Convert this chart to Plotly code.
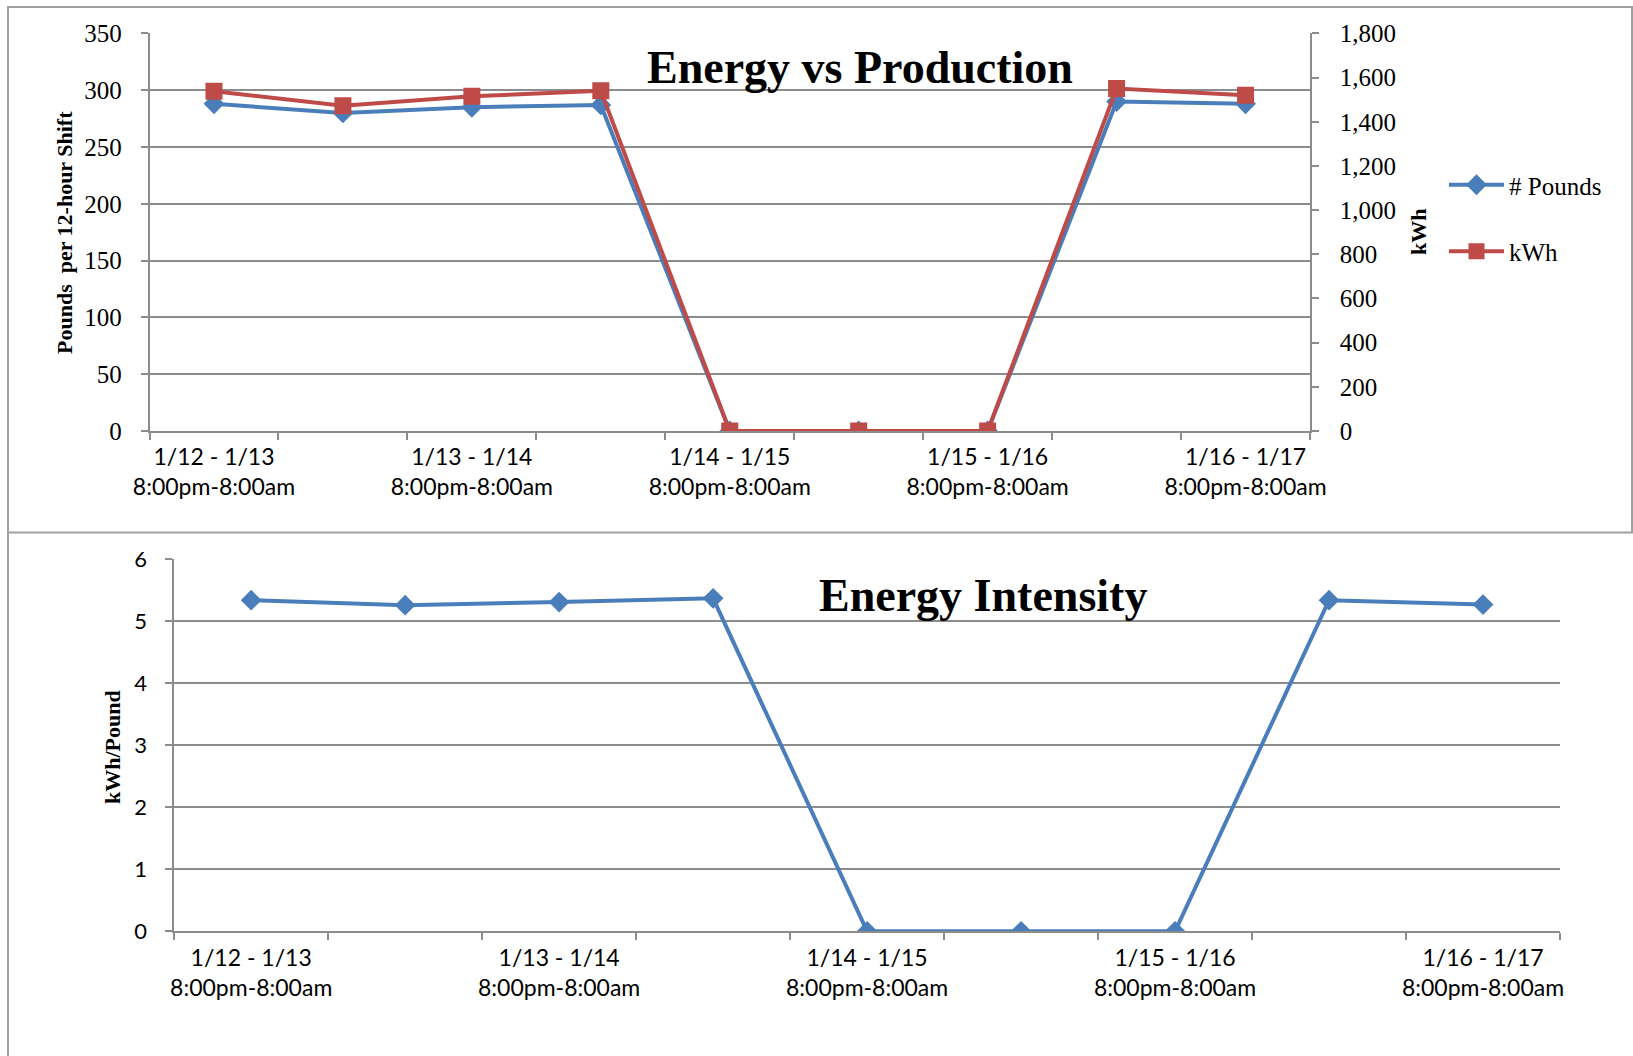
import plotly.graph_objects as go

# Night shifts, 12-hour intervals (9 shifts); only every other shift is labelled on the axis
shift_index = [1, 2, 3, 4, 5, 6, 7, 8, 9]
label_positions = [1, 3, 5, 7, 9]
shift_labels = [
    "1/12 - 1/13<br>8:00pm-8:00am",
    "1/13 - 1/14<br>8:00pm-8:00am",
    "1/14 - 1/15<br>8:00pm-8:00am",
    "1/15 - 1/16<br>8:00pm-8:00am",
    "1/16 - 1/17<br>8:00pm-8:00am",
]

pounds = [288, 280, 285, 287, 0, 0, 0, 290, 288]
kwh = [1538, 1473, 1515, 1540, 0, 0, 0, 1550, 1520]
kwh_per_pound = [5.34, 5.26, 5.31, 5.37, 0, 0, 0, 5.34, 5.27]

W, H = 1633, 1056
BLUE = "#4A7EBB"
RED = "#BE4B48"
GRID = "#8C8C8C"
SERIF = "Liberation Serif, Times New Roman, serif"
SANS = "Lato, Calibri, sans-serif"


def px_x(x):
    return x / W


def px_y(y):
    return 1 - y / H


fig = go.Figure()

fig.add_trace(go.Scatter(
    x=shift_index, y=pounds, name="# Pounds", mode="lines+markers",
    line=dict(color=BLUE, width=4), marker=dict(symbol="diamond", size=16, color=BLUE),
    xaxis="x", yaxis="y", legendgroup="a",
))
fig.add_trace(go.Scatter(
    x=shift_index, y=kwh, name="kWh", mode="lines+markers",
    line=dict(color=RED, width=4), marker=dict(symbol="square", size=17, color=RED),
    xaxis="x", yaxis="y2", legendgroup="b",
))
fig.add_trace(go.Scatter(
    x=shift_index, y=kwh_per_pound, name="kWh/Pound", mode="lines+markers",
    line=dict(color=BLUE, width=4), marker=dict(symbol="diamond", size=16, color=BLUE),
    xaxis="x2", yaxis="y3", showlegend=False,
))

xcommon = dict(
    range=[0.5, 9.5], tickmode="array", tickvals=label_positions, ticktext=shift_labels,
    ticks="", showgrid=False, zeroline=False, showline=True, linecolor=GRID, linewidth=1.5,
    tickfont=dict(family=SANS, size=23, color="#000000"), ticklabelstandoff=5,
    automargin=False,
    minor=dict(tickmode="array", tickvals=[i + 0.5 for i in range(0, 10)],
               ticks="outside", ticklen=7, tickcolor=GRID, tickwidth=1.5),
)
ycommon = dict(
    showgrid=True, gridcolor=GRID, gridwidth=1.5, zeroline=False,
    showline=True, linecolor=GRID, linewidth=1.5,
    ticks="outside", ticklen=7, tickcolor=GRID, tickwidth=1.5,
    automargin=False,
)

fig.update_layout(
    width=W, height=H, margin=dict(l=0, r=0, t=0, b=0, autoexpand=False),
    paper_bgcolor="white", plot_bgcolor="white",
    xaxis=dict(domain=[px_x(149.5), px_x(1310)], anchor="y", **xcommon),
    yaxis=dict(domain=[px_y(431), px_y(33.4)], range=[0, 350], dtick=50, anchor="x",
               ticklabelstandoff=14,
               tickfont=dict(family=SERIF, size=25, color="#000000"), **ycommon),
    yaxis2=dict(overlaying="y", side="right", anchor="x", range=[0, 1800], dtick=200,
                tickformat=",d", showgrid=False, zeroline=False, showline=True,
                linecolor=GRID, linewidth=1.5,
                ticks="outside", ticklen=7, tickcolor=GRID, tickwidth=1.5,
                ticklabelstandoff=16, automargin=False,
                tickfont=dict(family=SERIF, size=25, color="#000000")),
    xaxis2=dict(domain=[px_x(174.2), px_x(1560)], anchor="y3", **xcommon),
    yaxis3=dict(domain=[px_y(931.3), px_y(559.3)], range=[0, 6], dtick=1, anchor="x2",
                ticklabelstandoff=14,
                tickfont=dict(family=SANS, size=22, color="#000000"), **ycommon),
    legend=dict(x=px_x(1444), y=px_y(162), xanchor="left", yanchor="top",
                font=dict(family=SERIF, size=25, color="#000000"),
                tracegroupgap=31, bgcolor="rgba(0,0,0,0)", itemwidth=55),
    showlegend=True,
)

annotations = [
    dict(text="<b>Energy vs Production</b>", x=px_x(860), y=px_y(67),
         font=dict(family=SERIF, size=46, color="#000000")),
    dict(text="<b>Energy Intensity</b>", x=px_x(983), y=px_y(595),
         font=dict(family=SERIF, size=46, color="#000000")),
    dict(text="<b>Pounds  per 12-hour Shift</b>", x=px_x(64), y=px_y(233), textangle=-90,
         font=dict(family=SERIF, size=22, color="#000000")),
    dict(text="<b>kWh</b>", x=px_x(1418), y=px_y(232), textangle=-90,
         font=dict(family=SERIF, size=22, color="#000000")),
    dict(text="<b>kWh/Pound</b>", x=px_x(112), y=px_y(747), textangle=-90,
         font=dict(family=SERIF, size=22, color="#000000")),
]
for a in annotations:
    a.update(xref="paper", yref="paper", showarrow=False, xanchor="center", yanchor="middle")
fig.update_layout(annotations=annotations)

# Chart frames
FRAME = "#A0A0A0"
shapes = [
    dict(type="rect", x0=px_x(8), x1=px_x(1632), y0=px_y(532.5), y1=px_y(7),
         line=dict(color=FRAME, width=2)),
    dict(type="line", x0=px_x(8), x1=px_x(8), y0=px_y(532.5), y1=0,
         line=dict(color=FRAME, width=2)),
]
for s in shapes:
    s.update(xref="paper", yref="paper", layer="below")
fig.update_layout(shapes=shapes)

fig.write_html("out.html")
